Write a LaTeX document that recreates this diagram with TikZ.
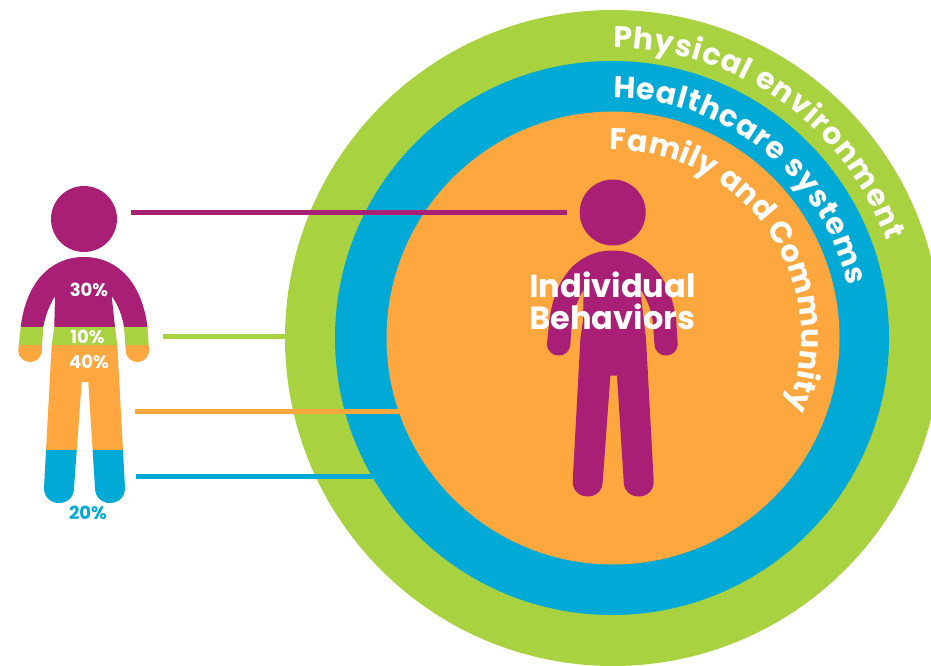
\documentclass[tikz,border=0pt]{standalone}
\usepackage{fontspec}
\setmainfont{Poppins}
\usetikzlibrary{decorations.text}
\definecolor{plum}{HTML}{A91F76}
\definecolor{leaf}{HTML}{A8D240}
\definecolor{sky}{HTML}{00A9D6}
\definecolor{amber}{HTML}{FEA73F}
\newcommand{\figurepath}{
	(84,219) circle[radius=33]
	(84,257) .. controls (118,257) and (142,283) .. (147.5,327) -- (149,350)
	.. controls (149,366) and (125.7,366) .. (125.7,350) -- (124,327)
	.. controls (122,315) and (118,305) .. (111.7,296) -- (115,327) -- (117.3,345) -- (125,488)
	.. controls (125,508) and (95,508) .. (95,488) -- (88.3,382) -- (81.7,382) -- (74,488)
	.. controls (74,508) and (44,508) .. (44,488) -- (51.7,345) -- (54.3,327) -- (55,296)
	.. controls (49.5,305) and (45.5,315) .. (43.3,327) -- (41.7,350)
	.. controls (41.7,366) and (18.3,366) .. (18.3,350) -- (20.7,327)
	.. controls (26,283) and (50,257) .. (84,257) -- cycle
}
\newcommand{\curvefont}{\bfseries\fontsize{30}{30}\selectfont\color{white}}
\tikzset{
	x=1pt, y=-1pt,
	bar/.style={line width=5pt},
	pct/.style={font=\bfseries\fontsize{18}{18}\selectfont, text=white, inner sep=0pt},
	ringtext/.style={decorate, decoration={text along path, text align={fit to path}, text={|\curvefont|#1}}}
}
\begin{document}
\begin{tikzpicture}
\useasboundingbox (0,0) rectangle (931,666);
\clip (0,0) rectangle (931,666);

%% Rings %%
\fill[leaf] (613,338) circle[radius=328];
\fill[sky] (612,338) circle[radius=277];
\fill[amber] (613,338) circle[radius=226.5];

\path[ringtext={Physical environment}] (613,338) ++(-90:290) arc[start angle=-90, end angle=-19.5, radius=290];
\path[ringtext={Healthcare systems}] (613,338) ++(-90:240) arc[start angle=-90, end angle=-12.5, radius=240];
\path[ringtext={Family and Community}] (613,338) ++(-91:188) arc[start angle=-91, end angle=22, radius=188];

%% Big figure %%
\begin{scope}[shift={(528.7,-6.5)}]
	\fill[plum] \figurepath;
\end{scope}
\node[font=\bfseries\fontsize{32}{31.5}\selectfont, text=white, align=left, inner sep=0pt] (behaviors) at (612.5,301) {Individual\\Behaviors};

%% Small figure %%
\begin{scope}
	\clip \figurepath;
	\fill[plum] (0,180) rectangle (160,326.7);
	\fill[leaf] (0,326.7) rectangle (160,345);
	\fill[amber] (0,345) rectangle (160,450);
	\fill[sky] (0,450) rectangle (160,510);
\end{scope}
\node[pct] (pctA) at (89,290) {30\%};
\node[pct] (pctB) at (87.5,336.5) {10\%};
\node[pct] (pctC) at (89,362) {40\%};
\node[pct, text=sky] (pctD) at (88,513) {20\%};

%% Connectors %%
\coordinate (plumA) at (131,212.5);
\coordinate (plumB) at (567,212.5);
\coordinate (leafA) at (163,336.5);
\coordinate (leafB) at (286,336.5);
\coordinate (amberA) at (135,411);
\coordinate (amberB) at (399,411);
\coordinate (skyA) at (136,476);
\coordinate (skyB) at (374,476);
\draw[bar, plum] (plumA) -- (plumB);
\draw[bar, leaf] (leafA) -- (leafB);
\draw[bar, amber] (amberA) -- (amberB);
\draw[bar, sky] (skyA) -- (skyB);
\end{tikzpicture}
\end{document}
